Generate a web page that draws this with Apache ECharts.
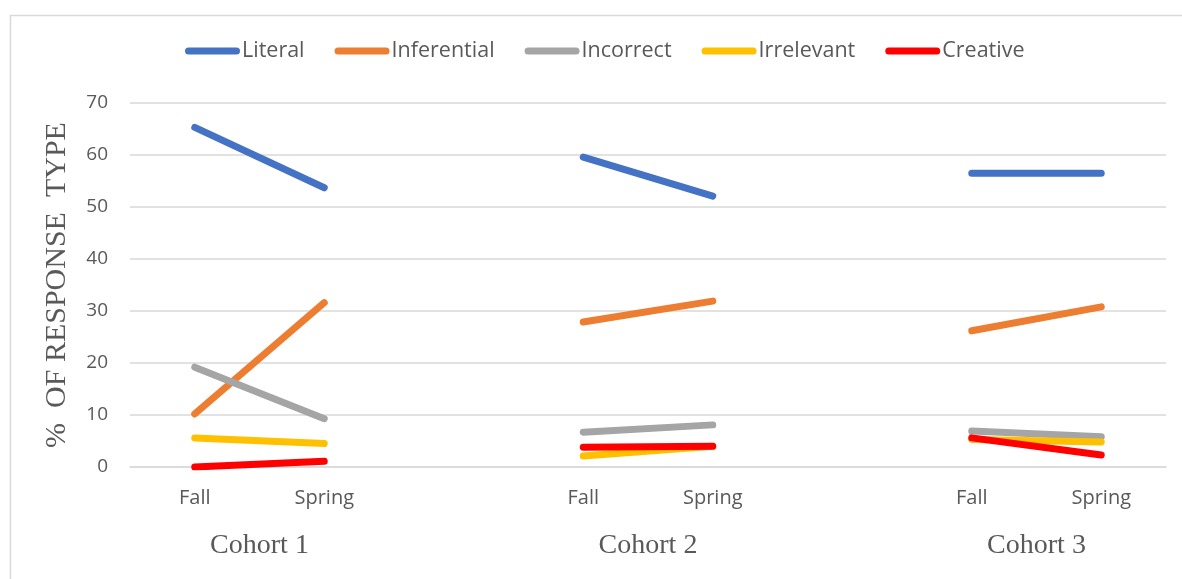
<!DOCTYPE html>
<html>
<head>
<meta charset="utf-8">
<script src="https://cdn.jsdelivr.net/npm/echarts@6/dist/echarts.min.js"></script>
<style>
html, body { margin: 0; padding: 0; background: #fff; }
#chart { width: 1182px; height: 579px; }
</style>
</head>
<body>
<div id="chart"></div>
<script>
// x categories: blank slots split the cohorts
var categories = ['Fall', 'Spring', '', 'Fall', 'Spring', '', 'Fall', 'Spring'];
var cohorts = ['Cohort 1', 'Cohort 2', 'Cohort 3'];
var yTicks = [0, 10, 20, 30, 40, 50, 60, 70];

var literal     = [65.3, 53.7, null, 59.6, 52.1, null, 56.5, 56.5];
var inferential = [10.2, 31.6, null, 27.9, 31.9, null, 26.2, 30.8];
var incorrect   = [19.2,  9.3, null,  6.7,  8.1, null,  6.9,  5.8];
var irrelevant  = [ 5.6,  4.5, null,  2.1,  4.0, null,  5.3,  4.8];
var creative    = [ 0.0,  1.1, null,  3.8,  4.0, null,  5.6,  2.3];

var seriesNames = ['Literal', 'Inferential', 'Incorrect', 'Irrelevant', 'Creative'];
var seriesData = [literal, inferential, incorrect, irrelevant, creative];
var colors = ['#4472C4', '#ED7D31', '#A5A5A5', '#FFC000', '#FF0000'];

var chart = echarts.init(document.getElementById('chart'));

var series = [];
for (var i = 0; i < seriesNames.length; i++) {
	series.push({
		name : seriesNames[i],
		type : 'line',
		data : seriesData[i],
		showSymbol : false,
		symbol : 'none',
		connectNulls : false,
		silent : true,
		lineStyle : { width : 7, color : colors[i], cap : 'round', join : 'round' },
		itemStyle : { color : colors[i] }
	});
}

var option = {
	animation : false,
	color : colors,
	graphic : [{
		type : 'rect',
		left : 8, top : 13,
		shape : { width : 1300, height : 700 },
		style : { fill : 'none', stroke : '#d9d9d9', lineWidth : 1.5 },
		silent : true
	}],
	legend : {
		top : 35,
		left : 180,
		itemWidth : 55,
		itemHeight : 7,
		itemGap : 30,
		icon : 'path://M3.5,0 L51.5,0 A3.5,3.5 0 0 1 51.5,7 L3.5,7 A3.5,3.5 0 0 1 3.5,0 Z',
		textStyle : { fontFamily : 'Open Sans', fontSize : 21.5, color : '#595959', padding : [0, 0, 0, -3] },
		data : seriesNames
	},
	grid : { left : 130, right : 16, top : 103, bottom : 112, containLabel : false },
	xAxis : [{
		type : 'category',
		data : categories,
		boundaryGap : true,
		axisLine : { lineStyle : { color : '#d9d9d9', width : 1.5 } },
		axisTick : { show : false },
		axisLabel : { fontFamily : 'Open Sans', fontSize : 20, color : '#595959', margin : 21, interval : 0 }
	}, {
		type : 'value',
		position : 'bottom',
		min : 0,
		max : categories.length,
		interval : 1,
		axisLine : { show : false },
		axisTick : { show : false },
		splitLine : { show : false },
		axisLabel : {
			margin : 65,
			fontFamily : 'Liberation Serif',
			fontSize : 28,
			color : '#595959',
			formatter : function(v) {
				return (v % 3 === 1) ? cohorts[(v - 1) / 3] : '';
			}
		}
	}],
	yAxis : {
		type : 'value',
		min : yTicks[0],
		max : yTicks[yTicks.length - 1],
		interval : 10,
		name : '%  OF RESPONSE  TYPE',
		nameLocation : 'middle',
		nameGap : 58,
		nameTextStyle : { fontFamily : 'Liberation Serif', fontSize : 30, color : '#595959' },
		axisLine : { show : false },
		axisTick : { show : false },
		splitLine : { lineStyle : { color : '#d9d9d9', width : 1.5 } },
		axisLabel : { fontFamily : 'Open Sans', fontSize : 19, color : '#595959', margin : 22 }
	},
	series : series
};

chart.setOption(option);
</script>
</body>
</html>
